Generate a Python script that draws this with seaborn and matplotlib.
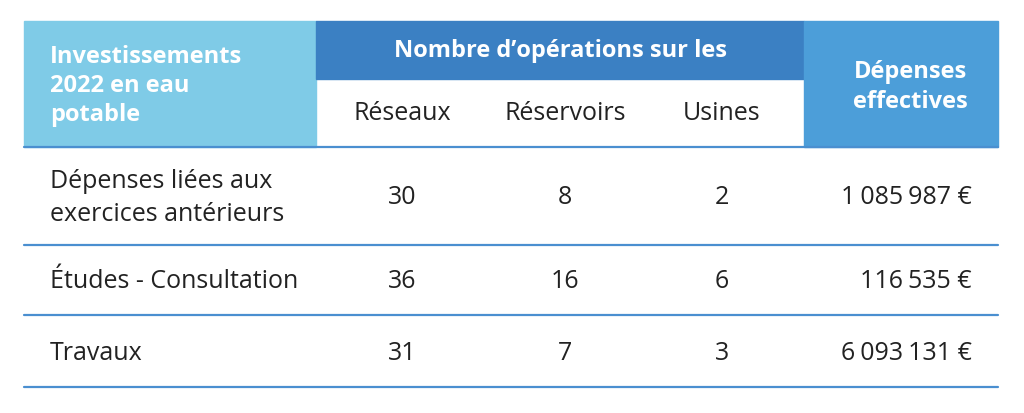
import matplotlib
matplotlib.use("Agg")
import matplotlib.pyplot as plt
import seaborn as sns
from matplotlib.patches import Rectangle

# table data
row_labels = ["Dépenses liées aux\nexercices antérieurs", "Études - Consultation", "Travaux"]
reseaux = [30, 36, 31]
reservoirs = [8, 16, 7]
usines = [2, 6, 3]
depenses = ["1\u202f085\u202f987 €", "116\u202f535 €", "6\u202f093\u202f131 €"]
sub_headers = ["Réseaux", "Réservoirs", "Usines"]

sns.set_theme(style="white")
plt.rcParams['font.family'] = ['Open Sans', 'DejaVu Sans']

fig = plt.figure(figsize=(10.24, 4.14), dpi=100)
ax = fig.add_axes([0, 0, 1, 1])
ax.set_xlim(0, 1024)
ax.set_ylim(414, 0)
ax.axis("off")

light = "#7fcbe7"
dark = "#3b80c3"
mid = "#4c9ed9"
line = "#4a8fd0"

ax.add_patch(Rectangle((24, 22), 292, 126, color=light))
ax.add_patch(Rectangle((316, 22), 488, 58, color=dark))
ax.add_patch(Rectangle((804, 22), 194, 126, color=mid))

hdr = dict(color="white", fontsize=17, fontweight="bold")
ax.text(50, 86, "Investissements\n2022 en eau\npotable", va="center", ha="left",
        linespacing=1.3, **hdr)
ax.text(560, 51, "Nombre d\u2019opérations sur les", va="center", ha="center", **hdr)
ax.text(910, 87, "Dépenses\neffectives", va="center", ha="center", linespacing=1.3, **hdr)

cols = [402, 565, 722]
body = dict(fontsize=18, color="#222222")
for x, s in zip(cols, sub_headers):
    ax.text(x, 114, s, ha="center", va="center", **body)

row_y = [198, 282, 354]
lines_y = [148, 246, 316, 388]
for y in lines_y:
    ax.plot([24, 998], [y, y], color=line, lw=1.6)

for i, y in enumerate(row_y):
    ax.text(50, y, row_labels[i], ha="left", va="center", linespacing=1.45, **body)
    for x, vals in zip(cols, [reseaux, reservoirs, usines]):
        ax.text(x, y, str(vals[i]), ha="center", va="center", **body)
    ax.text(972, y, depenses[i], ha="right", va="center", **body)

fig.savefig("out.png", dpi=100)
